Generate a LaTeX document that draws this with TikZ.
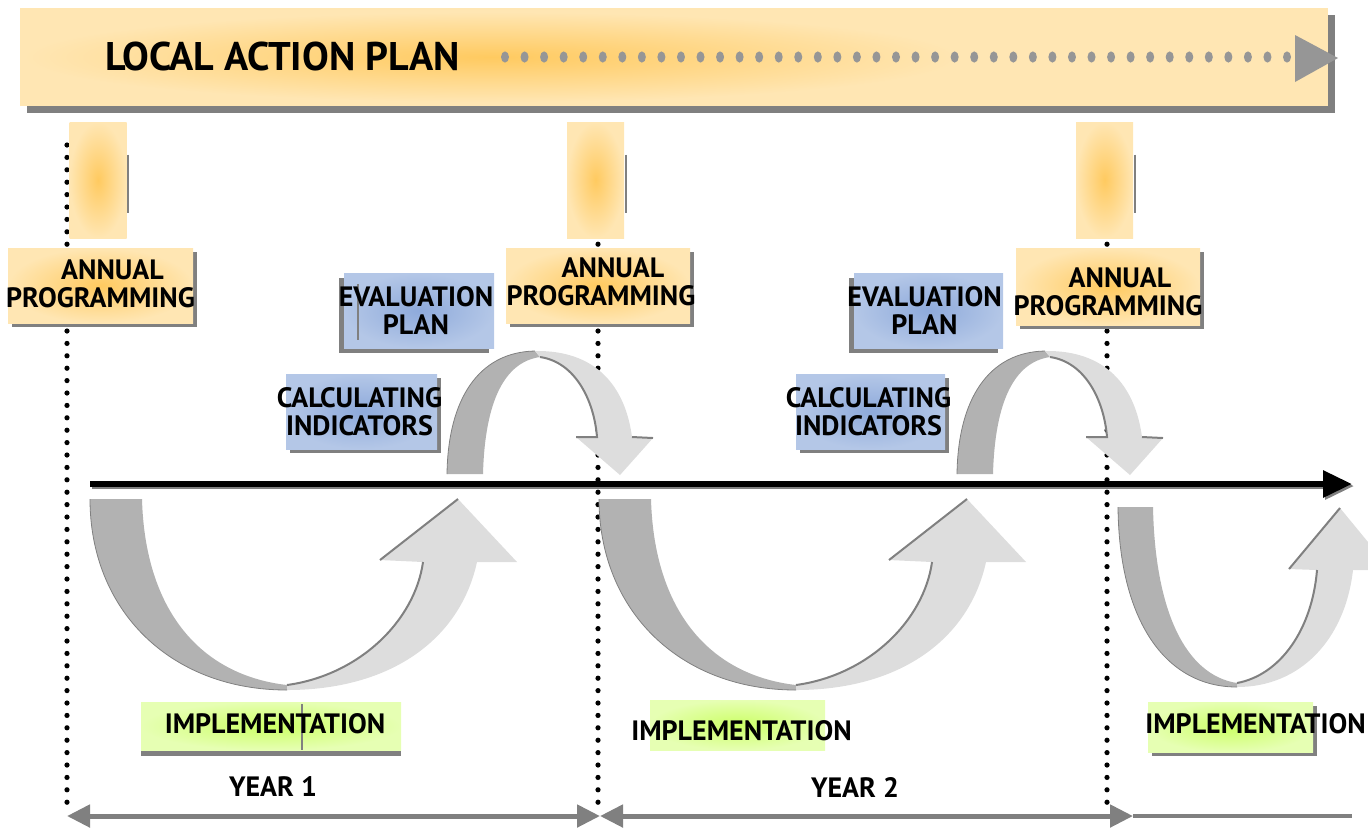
\documentclass[tikz,border=0pt]{standalone}
\usepackage{fontspec}
\setmainfont{PT Sans}
\usetikzlibrary{arrows.meta,shadows}

\definecolor{planOut}{HTML}{FFE6B3}
\definecolor{planIn}{HTML}{FFCA60}
\definecolor{evalOut}{HTML}{B4C7E7}
\definecolor{evalIn}{HTML}{8EAADB}
\definecolor{implOut}{HTML}{E6FFB3}
\definecolor{implIn}{HTML}{CCFF66}
\definecolor{shadowGray}{HTML}{808080}
\definecolor{ribbonDark}{HTML}{B2B2B2}
\definecolor{ribbonLight}{HTML}{DDDDDD}
\definecolor{dotGray}{HTML}{969696}

\begin{document}
\begin{tikzpicture}[x=0.5pt,y=-0.5pt,
    lbl/.style={font=\fontsize{14}{14}\selectfont\bfseries, align=center, inner sep=0pt},
    title/.style={font=\fontsize{20}{24}\selectfont\bfseries, inner sep=0pt},
    planbox/.style={inner sep=0pt, inner color=planIn, outer color=planOut},
    evalbox/.style={inner sep=0pt, inner color=evalIn, outer color=evalOut},
    implbox/.style={inner sep=0pt, inner color=implIn, outer color=implOut},
    timeline/.style={line width=2.6pt, dash pattern=on 0pt off 6.2pt, line cap=round},
    ribbonedge/.style={draw=shadowGray, line width=1pt},
    yeararrow/.style={shadowGray, line width=2.5pt,
      {Triangle[length=11.5pt,width=11pt]}-{Triangle[length=11.5pt,width=11pt]}}]
  \useasboundingbox (0,0) rectangle (1368,827);
  \clip (0,0) rectangle (1368,827);

  % year markers
  \coordinate (m1top) at (67,145);   \coordinate (m1bot) at (67,808);
  \coordinate (m2top) at (598,145);  \coordinate (m2bot) at (598,810);
  \coordinate (m3top) at (1107,145); \coordinate (m3bot) at (1107,808);
  \draw[timeline] (m1top) -- (m1bot);
  \draw[timeline] (m2top) -- (m2bot);
  \draw[timeline] (m3top) -- (m3bot);

  % local action plan
  \node[fill=planOut, minimum width=654pt, minimum height=49pt, inner sep=0pt,
    drop shadow={shadow xshift=3.5pt, shadow yshift=-3.5pt, fill=shadowGray, opacity=1}]
    (plan) at (674,57) {};
  \shade[inner color=planIn, outer color=planOut] (24,12) rectangle (960,102);
  \node[title, anchor=west] (planTitle) at (105,56) {LOCAL ACTION PLAN};
  \foreach \i in {0,...,40}
    \fill[dotGray] (505+19.55*\i,57) ellipse [x radius=2pt, y radius=2.8pt];
  \fill[dotGray] (1295,35) -- (1338,58) -- (1295,82) -- cycle;

  % candles
  \foreach \n/\cx in {1/98,2/595.5,3/1104.5} {
    \node[planbox, minimum width=28.5pt, minimum height=58pt] (cand\n) at (\cx,180) {};
    \draw[shadowGray, line width=1pt] ([xshift=.7pt,yshift=-16.5pt]cand\n.north east)
      -- ([xshift=.7pt,yshift=12.5pt]cand\n.south east);
  }

  % annual programming
  \tikzset{apshadow/.style={drop shadow={shadow xshift=2pt, shadow yshift=-2pt, fill=shadowGray, opacity=1}}}
  \node[planbox, apshadow, minimum width=92.5pt, minimum height=37.5pt] (ap1) at (100.5,285.5) {};
  \node[planbox, apshadow, minimum width=92pt, minimum height=37.5pt] (ap2) at (598,285.5) {};
  \node[planbox, apshadow, minimum width=92pt, minimum height=38.5pt] (ap3) at (1108,286.5) {};
  \node[lbl] (ap1t) at ([yshift=.7pt]ap1.center) {\hspace*{12pt}ANNUAL\\PROGRAMMING};
  \node[lbl] (ap2t) at ([xshift=1.5pt,yshift=1.7pt]ap2.center) {\hspace*{12pt}ANNUAL\\PROGRAMMING};
  \node[lbl] (ap3t) at ([yshift=-2.7pt]ap3.center) {\hspace*{12pt}ANNUAL\\PROGRAMMING};

  % evaluation plan
  \tikzset{evshadow/.style={drop shadow={shadow xshift=-2.5pt, shadow yshift=-2.5pt, fill=shadowGray, opacity=1}}}
  \node[evalbox, evshadow, minimum width=75pt, minimum height=37.5pt] (ev1) at (419,310.5) {};
  \node[evalbox, evshadow, minimum width=74.5pt, minimum height=37.5pt] (ev2) at (928.5,310.5) {};
  \draw[shadowGray, line width=1pt] (358,284) -- (358,340);
  \node[lbl] (ev1t) at ([xshift=-1.5pt]ev1.center) {EVALUATION\\PLAN};
  \node[lbl] (ev2t) at ([xshift=-2pt]ev2.center) {EVALUATION\\PLAN};

  % calculating indicators
  \node[evalbox, apshadow, minimum width=75.5pt, minimum height=37.5pt] (ci1) at (361.5,411.5) {};
  \node[evalbox, apshadow, minimum width=74.5pt, minimum height=37.5pt] (ci2) at (870.5,411.5) {};
  \node[lbl] (ci1t) at ([xshift=-1pt]ci1.center) {CALCULATING\\INDICATORS};
  \node[lbl] (ci2t) at ([xshift=-1pt]ci2.center) {CALCULATING\\INDICATORS};

  % implementation
  \node[implbox, drop shadow={shadow xshift=0pt, shadow yshift=-3pt, fill=shadowGray, opacity=1},
    minimum width=130pt, minimum height=24pt] (im1) at (271,726) {};
  \node[implbox, minimum width=87.5pt, minimum height=25pt] (im2) at (737.5,725) {};
  \node[implbox, apshadow, minimum width=82.5pt, minimum height=25pt] (im3) at (1230.5,727) {};
  \draw[shadowGray, line width=.8pt] (302,704) -- (302,750);
  \node[lbl] (im1t) at ([xshift=2pt,yshift=1pt]im1.center) {IMPLEMENTATION};
  \node[lbl] (im2t) at ([xshift=2pt,yshift=-3pt]im2.center) {IMPLEMENTATION};
  \node[lbl] (im3t) at ([xshift=12.5pt,yshift=1.5pt]im3.center) {IMPLEMENTATION};

  % loops below the axis
  \foreach \s in {0,254.5} {
    \begin{scope}[xshift=\s pt]
      \fill[ribbonDark] (90,499) -- (142,499) .. controls (145,610) and (200,675) .. (287,685)
        -- (287,690) .. controls (170,690) and (90,610) .. (90,499) -- cycle;
      \fill[ribbonLight] (287,685) .. controls (360,675) and (415,620) .. (423,562)
        -- (380,560) -- (458,499) -- (517,562) -- (477,562)
        .. controls (460,640) and (390,690) .. (287,690) -- cycle;
      \draw[ribbonedge] (287,685) .. controls (360,675) and (415,620) .. (423,562);
      \draw[ribbonedge] (380,560) -- (458,499);
      \draw[shadowGray, thin] (90,499) .. controls (90,610) and (170,690) .. (287,690);
    \end{scope}
  }
  \fill[ribbonDark] (1118,507) -- (1153,507) .. controls (1155,610) and (1185,675) .. (1237,683)
    -- (1237,687) .. controls (1165,687) and (1119,620) .. (1118,507) -- cycle;
  \fill[ribbonLight] (1237,683) .. controls (1280,675) and (1312,630) .. (1317,570)
    -- (1289,569) -- (1340,508) -- (1391,570) -- (1353,570)
    .. controls (1345,640) and (1300,687) .. (1237,687) -- cycle;
  \draw[ribbonedge] (1237,683) .. controls (1280,675) and (1312,630) .. (1317,570);
  \draw[ribbonedge] (1289,569) -- (1340,508);
  \draw[shadowGray, thin] (1118,507) .. controls (1119,620) and (1165,687) .. (1237,687);

  % loops above the axis
  \foreach \s in {0,255} {
    \begin{scope}[xshift=\s pt]
      \fill[ribbonDark] (447,474) -- (483,474) .. controls (485,400) and (505,362) .. (540,357)
        -- (535,351) .. controls (478,352) and (448,400) .. (447,474) -- cycle;
      \fill[ribbonLight] (540,357) .. controls (575,362) and (594,400) .. (597,437)
        -- (576,437) -- (620,475) -- (653,438) -- (632,437)
        .. controls (625,385) and (595,350) .. (535,351) -- cycle;
      \draw[ribbonedge] (540,357) .. controls (575,362) and (594,400) .. (597,437) -- (576,437);
      \draw[ribbonedge] (632,437) -- (653,438);
      \draw[shadowGray, thin] (447,474) .. controls (448,400) and (478,352) .. (535,351);
    \end{scope}
  }

  % time axis
  \coordinate (axisL) at (90,484);
  \coordinate (axisR) at (1352,484);
  \draw[shadowGray, line width=3pt, -{Triangle[length=14.5pt,width=13pt]}]
    ([shift={(1pt,-1pt)}]axisL) -- ([shift={(1pt,-1pt)}]axisR);
  \draw[line width=3pt, -{Triangle[length=14.5pt,width=13pt]}] (axisL) -- (axisR);

  % years
  \coordinate (yr0) at (67,816);
  \coordinate (yr1) at (600,816);
  \coordinate (yr2) at (1133,816);
  \coordinate (yrEnd) at (1352,816);
  \draw[yeararrow] (yr0) -- (yr1);
  \draw[yeararrow] (yr1) -- (yr2);
  \draw[shadowGray, line width=2pt] (yr2) -- (yrEnd);
  \node[lbl] (year1) at (273,787) {YEAR 1};
  \node[lbl] (year2) at (855,787) {YEAR 2};
\end{tikzpicture}
\end{document}
